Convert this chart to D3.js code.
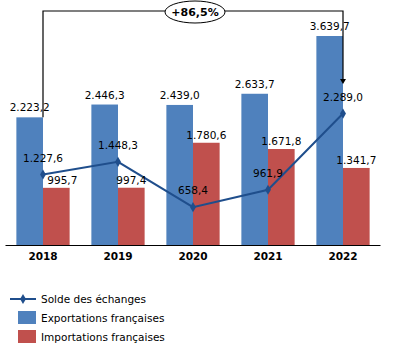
<!DOCTYPE html>
<html><head><meta charset="utf-8">
<script src="https://cdn.jsdelivr.net/npm/d3@7"></script>
<style>body{margin:0;background:#fff}svg{display:block}text{font-family:"DejaVu Sans",Verdana,sans-serif}</style>
</head><body>
<svg id="c" width="394" height="355"></svg>
<script>
const years = ["2018","2019","2020","2021","2022"];
const exportsFR = [2223.2, 2446.3, 2439.0, 2633.7, 3639.7];
const importsFR = [995.7, 997.4, 1780.6, 1671.8, 1341.7];
const solde = [1227.6, 1448.3, 658.4, 961.9, 2289.0];
const growthLabel = "+86,5%";
const legendLabels = ["Solde des échanges", "Exportations françaises", "Importations françaises"];

const fmt = v => d3.format(",.1f")(v).replace(/,/g, " ").replace(".", ",").replace(/ /g, ".");
const svg = d3.select("#c");
const blue = "#4F81BD", red = "#C0504D", lineC = "#1F4E8C";

const x = d3.scaleBand().domain(years).range([5.5, 380.5]).paddingInner(0.29).paddingOuter(0.145);
const y = d3.scaleLinear().domain([0, 3639.7]).range([245, 36]);
const bw = x.bandwidth() / 2;
const cx = d => x(d) + x.bandwidth() / 2;

// bars
svg.selectAll(".ex").data(years).join("rect")
  .attr("x", d => x(d)).attr("width", bw)
  .attr("y", (d, i) => y(exportsFR[i])).attr("height", (d, i) => y(0) - y(exportsFR[i]))
  .attr("fill", blue);
svg.selectAll(".im").data(years).join("rect")
  .attr("x", d => x(d) + bw).attr("width", bw)
  .attr("y", (d, i) => y(importsFR[i])).attr("height", (d, i) => y(0) - y(importsFR[i]))
  .attr("fill", red);

// axis
const ax = svg.append("g").attr("transform", `translate(0,${y(0)})`)
  .call(d3.axisBottom(x).tickSize(0).tickPadding(8));
ax.select(".domain").attr("stroke", "#000").attr("stroke-width", 1).attr("d", "M5.5,0.5H380.5");
ax.selectAll("text").attr("font-size", 10.5).attr("font-weight", "bold").attr("fill", "#000")
  .attr("font-family", "DejaVu Sans");

// bracket
const x0 = cx(years[0]), x1 = cx(years[4]), yTop = 11;
svg.append("path").attr("fill", "none").attr("stroke", "#000").attr("stroke-width", 1.2)
  .attr("d", `M${x0},${y(exportsFR[0])}V${yTop}H${x1}V82`);
svg.append("path").attr("fill", "#000")
  .attr("d", `M${x1-3},79L${x1+3},79L${x1},84Z`);
svg.append("ellipse").attr("cx", 195).attr("cy", 12).attr("rx", 30).attr("ry", 11)
  .attr("fill", "#fff").attr("stroke", "#000").attr("stroke-width", 1);
svg.append("text").attr("x", 195).attr("y", 16).attr("text-anchor", "middle")
  .attr("font-size", 11).attr("font-weight", "bold").text(growthLabel);

// line
const line = d3.line().x((d, i) => cx(years[i])).y(d => y(d));
svg.append("path").datum(solde).attr("d", line).attr("fill", "none")
  .attr("stroke", lineC).attr("stroke-width", 2);
svg.selectAll(".pt").data(solde).join("path")
  .attr("transform", (d, i) => `translate(${cx(years[i])},${y(d)})`)
  .attr("d", d3.symbol(d3.symbolDiamond, 30)).attr("fill", lineC);

// labels
const lab = (xv, yv, t) => svg.append("text").attr("x", xv).attr("y", yv)
  .attr("text-anchor", "middle").attr("font-size", 10.5).attr("fill", "#000").text(t);
years.forEach((yr, i) => {
  lab(x(yr) + bw / 2, y(exportsFR[i]) - 6, fmt(exportsFR[i]));
  lab(x(yr) + bw * 1.5 + (i === 0 ? 6 : 0), y(importsFR[i]) - 4, fmt(importsFR[i]));
  lab(cx(yr), y(solde[i]) - 13, fmt(solde[i]));
});

// legend
const lg = svg.append("g");
lg.append("line").attr("x1", 10).attr("x2", 36).attr("y1", 299).attr("y2", 299)
  .attr("stroke", lineC).attr("stroke-width", 2);
lg.append("path").attr("transform", "translate(23,299)")
  .attr("d", d3.symbol(d3.symbolDiamond, 30)).attr("fill", lineC);
lg.append("rect").attr("x", 18).attr("y", 311).attr("width", 18).attr("height", 13).attr("fill", blue);
lg.append("rect").attr("x", 18).attr("y", 330).attr("width", 18).attr("height", 13).attr("fill", red);
[303, 322, 341].forEach((yy, i) => lg.append("text").attr("x", 41).attr("y", yy)
  .attr("font-size", 10.5).attr("fill", "#000").text(legendLabels[i]));
</script>
</body></html>
